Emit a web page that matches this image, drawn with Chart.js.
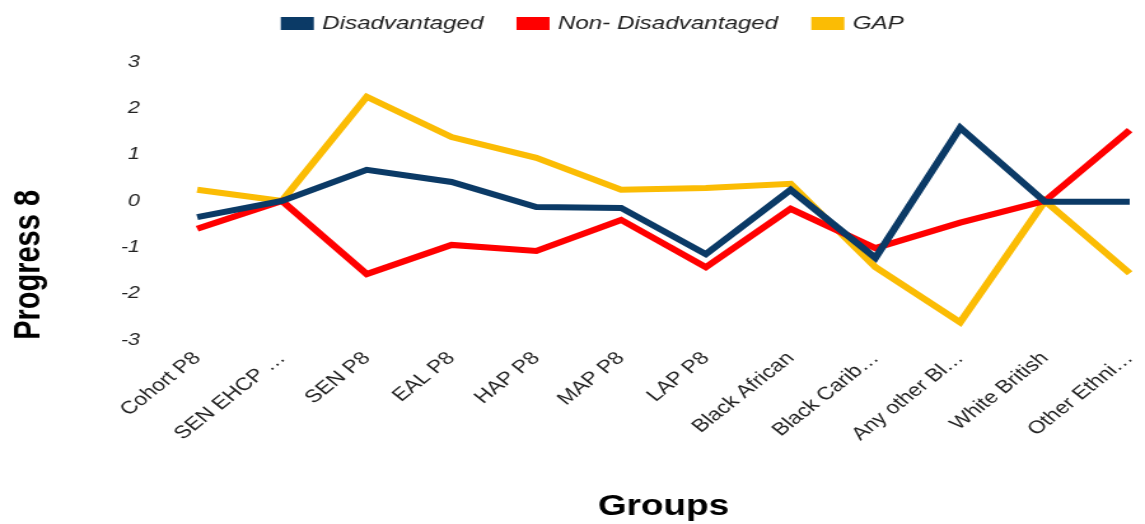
<!DOCTYPE html>
<html>
<head>
<meta charset="utf-8">
<script src="https://cdn.jsdelivr.net/npm/chart.js@4/dist/chart.umd.min.js"></script>
<style>
  html, body { margin: 0; padding: 0; background: #fff; overflow: hidden; }
  /* the reference is a horizontally stretched screenshot: draw narrow, stretch to 1145 */
  #wrap { width: 900px; height: 524px; transform: scaleX(1.2722); transform-origin: 0 0; }
</style>
</head>
<body>
<div id="wrap"><canvas id="myChart"></canvas></div>
<script>
const groups = ['Cohort P8', 'SEN EHCP \u2026', 'SEN P8', 'EAL P8', 'HAP P8', 'MAP P8', 'LAP P8',
    'Black African', 'Black Carib\u2026', 'Any other Bl\u2026', 'White British', 'Other Ethni\u2026'];
const disadvantaged = [-0.35, 0, 0.67, 0.41, -0.13, -0.15, -1.15, 0.24, -1.23, 1.58, -0.02, -0.02];
const nonDisadvantaged = [-0.6, 0, -1.58, -0.95, -1.08, -0.41, -1.43, -0.17, -1.02, -0.47, 0, 1.53];
const gap = [0.24, 0, 2.25, 1.38, 0.93, 0.24, 0.28, 0.37, -1.43, -2.62, 0, -1.56];

// extra space under the legend, and nudge the legend up / right
const legendTweak = {
    id: 'legendTweak',
    beforeInit(chart) {
        const fit = chart.legend.fit;
        chart.legend.fit = function() {
            fit.bind(chart.legend)();
            this.height += 4;
        };
    },
    afterLayout(chart) {
        const lg = chart.legend;
        lg.left += 17; lg.right += 17;
        lg.top -= 15; lg.bottom -= 15;
    }
};

document.addEventListener('DOMContentLoaded', function() {
    const ctx = document.getElementById('myChart').getContext('2d');
    Chart.defaults.font.family = "'Liberation Sans', Arial, sans-serif";
    Chart.defaults.color = '#222';

    new Chart(ctx, {
        type: 'line',
        data: {
            labels: groups,
            datasets: [{
                label: 'Disadvantaged',
                data: disadvantaged,
                borderColor: '#0b3a66',
                backgroundColor: '#0b3a66'
            }, {
                label: 'Non- Disadvantaged',
                data: nonDisadvantaged,
                borderColor: '#ff0000',
                backgroundColor: '#ff0000'
            }, {
                label: 'GAP',
                data: gap,
                borderColor: '#fbbc04',
                backgroundColor: '#fbbc04'
            }]
        },
        options: {
            responsive: true,
            maintainAspectRatio: false,
            animation: false,
            elements: {
                line: { borderWidth: 6, tension: 0 },
                point: { radius: 0, hoverRadius: 0 }
            },
            layout: { padding: 0 },
            plugins: {
                legend: {
                    position: 'top',
                    labels: {
                        boxWidth: 20,
                        boxHeight: 7,
                        padding: 29,
                        font: { size: 19, style: 'italic' }
                    }
                },
                tooltip: { enabled: false }
            },
            scales: {
                x: {
                    grid: { display: false, drawTicks: false },
                    border: { display: false },
                    afterFit: function(scale) { scale.paddingRight = 12; },
                    ticks: {
                        autoSkip: false,
                        maxRotation: 45,
                        minRotation: 45,
                        padding: 8,
                        color: '#222',
                        font: { size: 18 }
                    },
                    title: {
                        display: true,
                        text: 'Groups',
                        color: '#000',
                        font: { size: 29, weight: 'bold' },
                        padding: { top: 36, bottom: 0 }
                    }
                },
                y: {
                    min: -3,
                    max: 3,
                    grid: { display: false, drawTicks: false },
                    border: { display: false },
                    afterFit: function(scale) { scale.width = 155; },
                    ticks: {
                        stepSize: 1,
                        padding: 45,
                        color: '#222',
                        font: { size: 17, style: 'italic' }
                    },
                    title: {
                        display: true,
                        text: 'Progress 8',
                        align: 'start',
                        color: '#000',
                        font: { size: 29, weight: 'bold' },
                        padding: { top: 6, bottom: 0 }
                    }
                }
            }
        },
        plugins: [legendTweak]
    });
});
</script>
</body>
</html>
